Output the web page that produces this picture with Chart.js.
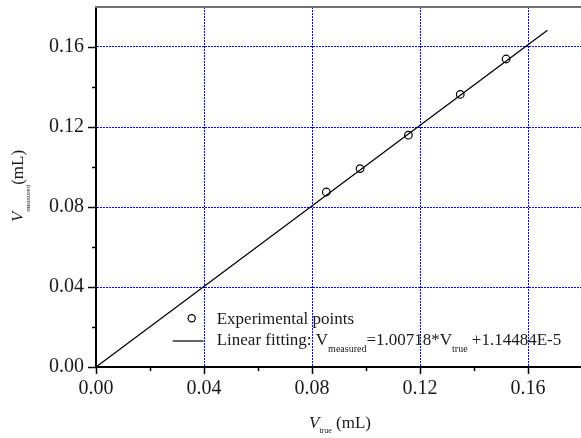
<!DOCTYPE html>
<html><head><meta charset="utf-8">
<script src="https://cdn.jsdelivr.net/npm/chart.js@4"></script>
<style>html,body{margin:0;padding:0;background:#fff;overflow:hidden;}#wrap{width:600px;height:438px;}</style>
</head><body><div id="wrap"><canvas id="c" width="600" height="438"></canvas></div>
<script>
// ---- data ----
const trueVolumes = [0.0853, 0.0978, 0.1157, 0.1349, 0.1519];
const measuredVolumes = [0.0875, 0.0992, 0.1159, 0.1363, 0.1540];
const fitX = [0, 0.1672];
const fitY = [0.0000114, 0.1684];
const majorTicks = [0, 0.04, 0.08, 0.12, 0.16];
const tickLabels = ['0.00', '0.04', '0.08', '0.12', '0.16'];
const minorTicks = [0.02, 0.06, 0.10, 0.14];
const legendPointsText = 'Experimental points';
const legendFitText = [['Linear fitting: V', false], ['measured', true], ['=1.00718*V', false], ['true', true], [' +1.14484E-5', false]];
const xTitle = [['V', 'main-italic'], ['true', 'sub'], [' (mL)', 'main']];
const yTitle = [['V', 'main-italic'], ['measured', 'sub'], ['(mL)', 'main']];

const FONT = "'Liberation Serif', 'Times New Roman', serif";
const TXT = '#1a1a1a';

function fontFor(kind, mainSize, subSize) {
  if (kind === 'main-italic') return 'italic ' + mainSize + 'px ' + FONT;
  if (kind === 'sub') return subSize + 'px ' + FONT;
  return mainSize + 'px ' + FONT;
}
function drawSegments(ctx, segs, x, y, mainSize, subSize, subDrop, center) {
  let total = 0;
  segs.forEach(s => { ctx.font = fontFor(s[1], mainSize, subSize); total += ctx.measureText(s[0]).width; });
  let cx = center ? x - total / 2 : x;
  segs.forEach(s => {
    ctx.font = fontFor(s[1], mainSize, subSize);
    ctx.fillText(s[0], cx, s[1] === 'sub' ? y + subDrop : y);
    cx += ctx.measureText(s[0]).width;
  });
}

const decor = {
  id: 'decor',
  afterDraw(chart) {
    const ctx = chart.ctx, xs = chart.scales.x, ys = chart.scales.y, a = chart.chartArea;
    ctx.save();
    // top frame
    ctx.strokeStyle = '#707070'; ctx.lineWidth = 2;
    ctx.beginPath(); ctx.moveTo(a.left - 1, a.top); ctx.lineTo(a.right + 2, a.top); ctx.stroke();
    // ticks
    ctx.strokeStyle = '#000'; ctx.lineWidth = 1.5;
    majorTicks.forEach(v => {
      const py = Math.round(ys.getPixelForValue(v)) + 0.5;
      ctx.beginPath(); ctx.moveTo(a.left - 8, py); ctx.lineTo(a.left, py); ctx.stroke();
      const px = Math.round(xs.getPixelForValue(v)) + 0.5;
      ctx.beginPath(); ctx.moveTo(px, a.bottom); ctx.lineTo(px, a.bottom + 7); ctx.stroke();
    });
    minorTicks.forEach(v => {
      const py = Math.round(ys.getPixelForValue(v)) + 0.5;
      ctx.beginPath(); ctx.moveTo(a.left - 4, py); ctx.lineTo(a.left, py); ctx.stroke();
      const px = Math.round(xs.getPixelForValue(v)) + 0.5;
      ctx.beginPath(); ctx.moveTo(px, a.bottom); ctx.lineTo(px, a.bottom + 4); ctx.stroke();
    });
    // axis titles
    ctx.fillStyle = TXT; ctx.textBaseline = 'alphabetic'; ctx.textAlign = 'left';
    drawSegments(ctx, xTitle, (a.left + 582) / 2 + 1, 428, 17, 8, 5, true);
    ctx.save();
    ctx.translate(23, 186); ctx.rotate(-Math.PI / 2);
    drawSegments(ctx, yTitle, 0, 0, 17, 7, 7, true);
    ctx.restore();
    // legend
    ctx.strokeStyle = '#000'; ctx.lineWidth = 1.2;
    ctx.beginPath(); ctx.arc(191.7, 318.3, 3.6, 0, Math.PI * 2); ctx.stroke();
    ctx.beginPath(); ctx.moveTo(172.7, 341); ctx.lineTo(203.5, 341); ctx.stroke();
    ctx.font = '17px ' + FONT;
    ctx.fillText(legendPointsText, 216.7, 324);
    drawSegments(ctx, legendFitText.map(s => [s[0], s[1] ? 'sub' : 'main']), 216.7, 345, 17, 10, 6.5, false);
    ctx.restore();
  }
};

const gridColor = ctx => (ctx.tick && ctx.tick.value > 0.001 ? '#0000ff' : 'rgba(0,0,0,0)');
const labelFor = (v) => { const i = majorTicks.findIndex(m => Math.abs(m - v) < 1e-9); return i >= 0 ? tickLabels[i] : ''; };

new Chart(document.getElementById('c'), {
  type: 'scatter',
  data: {
    datasets: [
      {
        label: legendPointsText,
        data: trueVolumes.map((x, i) => ({ x: x, y: measuredVolumes[i] })),
        showLine: false,
        pointStyle: 'circle',
        pointRadius: 3.8,
        pointBorderWidth: 1.2,
        pointBackgroundColor: 'rgba(0,0,0,0)',
        pointBorderColor: '#000',
        order: 0
      },
      {
        label: 'Linear fitting',
        data: fitX.map((x, i) => ({ x: x, y: fitY[i] })),
        showLine: true,
        borderColor: '#000',
        borderWidth: 1.3,
        pointRadius: 0,
        order: 1
      }
    ]
  },
  options: {
    responsive: false,
    animation: false,
    layout: { padding: { top: 7, right: 18, left: 0, bottom: 0 } },
    plugins: { legend: { display: false }, tooltip: { enabled: false } },
    scales: {
      x: {
        type: 'linear', min: 0, max: 0.18,
        afterBuildTicks: s => { s.ticks = majorTicks.map(v => ({ value: v })); },
        afterFit: s => { s.height = 71; s.paddingLeft = 0; s.paddingRight = 0; },
        ticks: {
          padding: 10, color: TXT, font: { family: FONT, size: 20 },
          callback: labelFor, maxRotation: 0, autoSkip: false
        },
        grid: { drawTicks: false, color: gridColor, lineWidth: 1 },
        border: { display: true, color: '#000', width: 2, dash: [2, 1] },
        title: { display: false }
      },
      y: {
        type: 'linear', min: 0, max: 0.18,
        afterBuildTicks: s => { s.ticks = majorTicks.map(v => ({ value: v })); },
        afterFit: s => { s.width = 96; s.paddingTop = 0; s.paddingBottom = 0; },
        ticks: {
          padding: 12, color: TXT, font: { family: FONT, size: 20 },
          callback: labelFor, autoSkip: false
        },
        grid: { drawTicks: false, color: gridColor, lineWidth: 1 },
        border: { display: true, color: '#000', width: 2, dash: [2, 1] },
        title: { display: false }
      }
    }
  },
  plugins: [decor]
});
</script>
</body></html>
